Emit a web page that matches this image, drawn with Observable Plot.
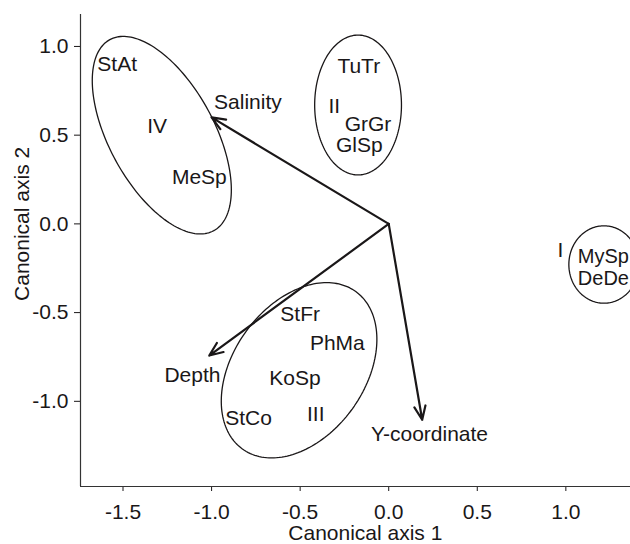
<!DOCTYPE html>
<html>
<head>
<meta charset="utf-8">
<script src="https://cdn.jsdelivr.net/npm/d3@7"></script>
<script src="https://cdn.jsdelivr.net/npm/@observablehq/plot@0.6"></script>
<style>
  html, body { margin: 0; padding: 0; background: white; }
  #chart { width: 630px; height: 544px; overflow: hidden; }
</style>
</head>
<body>
<div id="chart"></div>
<script>
// ---- data ----
const xTicks = [-1.5, -1, -0.5, 0, 0.5, 1];
const yTicks = [-1, -0.5, 0, 0.5, 1];
const xDomain = [-1.74, 1.365];
const yDomain = [-1.48, 1.18];

const vectorNames = ["Salinity", "Depth", "Y-coordinate"];
const vectorX = [-1.0, -1.013, 0.189];
const vectorY = [0.60, -0.742, -1.104];
const vectorLabelX = [-0.795, -1.108, 0.23];
const vectorLabelY = [0.685, -0.854, -1.183];

const speciesNames = ["StAt", "MeSp", "TuTr", "GrGr", "GlSp", "StFr", "PhMa", "KoSp", "StCo"];
const speciesX = [-1.533, -1.069, -0.169, -0.117, -0.166, -0.50, -0.29, -0.529, -0.791];
const speciesY = [0.901, 0.263, 0.886, 0.563, 0.441, -0.507, -0.673, -0.868, -1.093];

// the tightly stacked pair inside group I
const pairNames = ["MySp", "DeDe"];
const pairX = [1.212, 1.212];
const pairY = [-0.184, -0.306];

const groupNames = ["I", "II", "III", "IV"];
const groupX = [0.97, -0.307, -0.412, -1.307];
const groupY = [-0.146, 0.661, -1.074, 0.548];

// ellipse parameters (centre, semi-axes, orientation in degrees)
const ellipseCx = [1.215, -0.173, -0.506, -1.281];
const ellipseCy = [-0.229, 0.670, -0.825, 0.50];
const ellipseA = [0.218, 0.394, 0.547, 0.613];
const ellipseB = [0.198, 0.245, 0.371, 0.297];
const ellipseAngle = [90, 90, 54.2, 118.6];

// ---- build tables ----
const vectors = vectorNames.map((n, i) => ({name: n, x: vectorX[i], y: vectorY[i], lx: vectorLabelX[i], ly: vectorLabelY[i]}));
const species = speciesNames.map((n, i) => ({name: n, x: speciesX[i], y: speciesY[i]}));
const pair = pairNames.map((n, i) => ({name: n, x: pairX[i], y: pairY[i]}));
const groups = groupNames.map((n, i) => ({name: n, x: groupX[i], y: groupY[i]}));
const ellipsePts = [];
groupNames.forEach((g, i) => {
  const phi = ellipseAngle[i] * Math.PI / 180;
  const N = 180;
  for (let k = 0; k <= N; k++) {
    const t = 2 * Math.PI * k / N;
    const ca = ellipseA[i] * Math.cos(t), sb = ellipseB[i] * Math.sin(t);
    ellipsePts.push({
      g,
      x: ellipseCx[i] + ca * Math.cos(phi) - sb * Math.sin(phi),
      y: ellipseCy[i] + ca * Math.sin(phi) + sb * Math.cos(phi)
    });
  }
});

const ink = "#1a1718";
const fs = 21;
const fmt = d => d.toFixed(1);

const chart = Plot.plot({
  width: 630,
  height: 544,
  marginLeft: 80,
  marginRight: 0,
  marginTop: 14,
  marginBottom: 58,
  style: {fontFamily: "'Liberation Sans', Arial, sans-serif", fontSize: fs + "px", color: ink, background: "white", overflow: "hidden"},
  x: {domain: xDomain, ticks: xTicks, tickFormat: fmt, tickSize: 5, tickPadding: 13, label: null},
  y: {domain: yDomain, ticks: yTicks, tickFormat: fmt, tickSize: 6, tickPadding: 6, label: null},
  marks: [
    Plot.ruleY([yDomain[0]], {stroke: "#333", strokeWidth: 1.2}),
    Plot.ruleX([xDomain[0]], {stroke: "#333", strokeWidth: 1.2}),
    Plot.line(ellipsePts, {x: "x", y: "y", z: "g", stroke: ink, strokeWidth: 1.3}),
    Plot.arrow(vectors, {x1: d => 0, y1: d => 0, x2: "x", y2: "y", stroke: ink, strokeWidth: 2.2, headLength: 10, headAngle: 45}),
    Plot.text(vectors, {x: "lx", y: "ly", text: "name", fontSize: fs, fill: ink}),
    Plot.text(species, {x: "x", y: "y", text: "name", fontSize: fs, fill: ink}),
    Plot.text(pair, {x: "x", y: "y", text: "name", fontSize: 20, fill: ink}),
    Plot.text(groups, {x: "x", y: "y", text: "name", fontSize: fs, fill: ink}),
    Plot.text(["Canonical axis 1"], {x: d => -0.132, y: d => yDomain[0], dy: 47, text: d => d, fontSize: fs, fill: ink}),
    Plot.text(["Canonical axis 2"], {x: d => xDomain[0], y: d => 0, dx: -58.6, rotate: -90, text: d => d, fontSize: fs, fill: ink})
  ]
});
document.getElementById("chart").appendChild(chart);
</script>
</body>
</html>
